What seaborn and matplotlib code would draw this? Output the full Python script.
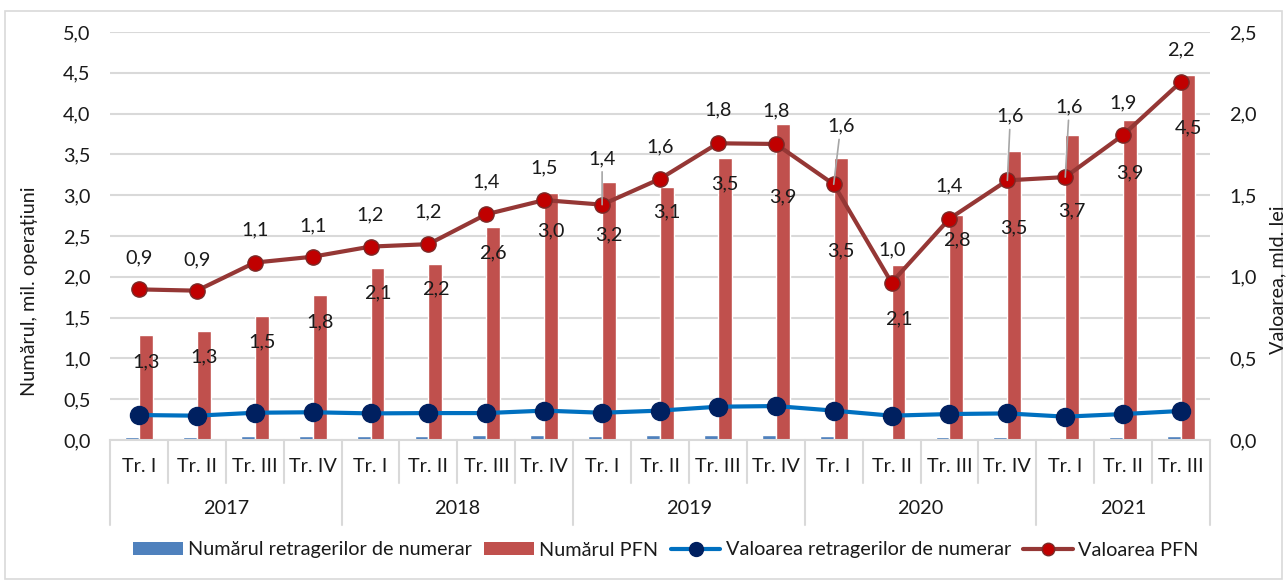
import numpy as np
import pandas as pd
import matplotlib
matplotlib.use("Agg")
import matplotlib.pyplot as plt
import matplotlib.transforms as mtransforms
from matplotlib.patches import Patch, Rectangle
from matplotlib.lines import Line2D
import seaborn as sns

# ---------------- data ----------------
years = ["2017", "2018", "2019", "2020", "2021"]
quarters_per_year = [4, 4, 4, 4, 3]
quarter_labels = ["Tr. I", "Tr. II", "Tr. III", "Tr. IV"] * 4 + ["Tr. I", "Tr. II", "Tr. III"]
num_cash = [0.04, 0.04, 0.05, 0.05, 0.05, 0.05, 0.06, 0.06, 0.05, 0.06,
            0.06, 0.06, 0.05, 0.03, 0.04, 0.04, 0.03, 0.04, 0.05]
num_pfn = [1.29, 1.34, 1.52, 1.78, 2.11, 2.16, 2.61, 3.03, 3.16, 3.10,
           3.46, 3.87, 3.46, 2.14, 2.76, 3.54, 3.74, 3.92, 4.47]
val_cash = [0.153, 0.149, 0.167, 0.170, 0.163, 0.165, 0.165, 0.180, 0.167, 0.180,
            0.204, 0.208, 0.180, 0.149, 0.159, 0.163, 0.143, 0.159, 0.178]
val_pfn = [0.923, 0.915, 1.087, 1.123, 1.185, 1.200, 1.383, 1.470, 1.442, 1.600,
           1.818, 1.814, 1.567, 0.964, 1.356, 1.591, 1.611, 1.869, 2.195]

series_names = ["Numărul retragerilor de numerar", "Numărul PFN",
                "Valoarea retragerilor de numerar", "Valoarea PFN"]

# ---------------- style (label placement, px) ----------------
count_lbl_below = [27, 26, 26, 27, 25, 25, 26, 38, 53, 25, 26, 73, 93, 53, 25, 77, 76, 53, 53]
val_lbl_above = [31, 31, 33, 31, 32, 32, 32, 32, 46, 32, 33, 33, 58, 33, 33, 64, 70, 32, 32]
val_lbl_dx = [0, 0, 0, 0, 0, 0, 0, 0, 0, 0, 0, 0, 7, 0, 0, 3, 4, 0, 0]
val_leader = [8, 12, 15, 16]

C_BLUE_BAR = "#4f81bd"
C_RED_BAR = "#c0504d"
C_BLUE_LINE = "#0070c0"
C_BLUE_MK = "#002060"
C_RED_LINE = "#953735"
C_RED_MK = "#c00000"
C_GRID = "#d9d9d9"
C_TEXT = "#1a1a1a"

sns.set_style("white")
plt.rcParams["font.family"] = ["Lato", "DejaVu Sans"]
FS = 14.3
plt.rcParams["font.size"] = FS


def fmt(v):
    return f"{v:.1f}".replace(".", ",")


n = len(num_pfn)
cat_keys = [f"{i:02d}" for i in range(n)]
df = pd.DataFrame({
    "cat": cat_keys * 2,
    "series": [series_names[0]] * n + [series_names[1]] * n,
    "value": num_cash + num_pfn,
})

W, H = 1287, 583
fig = plt.figure(figsize=(W / 100, H / 100), dpi=100)
L, R, T, B = 110, 1210, 32, 440
ax = fig.add_axes([L / W, 1 - B / H, (R - L) / W, (B - T) / H])

sns.barplot(data=df, x="cat", y="value", hue="series", order=cat_keys,
            hue_order=series_names[:2], palette=[C_BLUE_BAR, C_RED_BAR],
            width=0.48, saturation=1, legend=False, ax=ax, zorder=2)
ax.set_ylim(0, 5)
ax.set_xlim(-0.5, n - 0.5)
ax.set_yticks(np.arange(0, 5.01, 0.5))
ax.set_yticklabels([fmt(v) for v in np.arange(0, 5.01, 0.5)], fontsize=FS, color=C_TEXT)
ax.yaxis.grid(True, color=C_GRID, lw=1.5, zorder=0)
ax.set_axisbelow(True)
ax.tick_params(axis="y", length=0, pad=14)
ax.tick_params(axis="x", length=0, labelbottom=False)
ax.set_xlabel("")
ax.set_ylabel("")
for s in ["top", "left", "right"]:
    ax.spines[s].set_visible(False)
ax.spines["bottom"].set_color(C_GRID)
ax.spines["bottom"].set_linewidth(1.5)

# count labels for PFN bars
for i, bar in enumerate(ax.containers[1]):
    cx = bar.get_x() + bar.get_width() / 2
    top = bar.get_height()
    ax.annotate(fmt(num_pfn[i]), xy=(cx, top), xytext=(0, -count_lbl_below[i]),
                textcoords="offset pixels", ha="center", va="center",
                fontsize=FS, color=C_TEXT, zorder=5)

# secondary axis lines
ax2 = ax.twinx()
x_idx = np.arange(n)
sns.lineplot(x=x_idx, y=val_cash, ax=ax2, color=C_BLUE_LINE, lw=3.0,
             marker="o", markersize=13, markerfacecolor=C_BLUE_MK,
             markeredgecolor=C_BLUE_MK, markeredgewidth=1, zorder=3)
sns.lineplot(x=x_idx, y=val_pfn, ax=ax2, color=C_RED_LINE, lw=3.0,
             marker="o", markersize=11, markerfacecolor=C_RED_MK,
             markeredgecolor="#7a2a28", markeredgewidth=1, zorder=4)
ax2.set_ylim(0, 2.5)
ax2.set_xlim(-0.5, n - 0.5)
ax2.set_yticks(np.arange(0, 2.51, 0.5))
ax2.set_yticklabels([fmt(v) for v in np.arange(0, 2.51, 0.5)], fontsize=FS, color=C_TEXT)
ax2.tick_params(axis="y", length=0, pad=14)
ax2.grid(False)
for s in ["top", "left", "right", "bottom"]:
    ax2.spines[s].set_visible(False)
ax2.set_ylabel("")

for i, v in enumerate(val_pfn):
    kw = {}
    if i in val_leader:
        kw["arrowprops"] = dict(arrowstyle="-", color="#a6a6a6", lw=1.2,
                                shrinkA=1, shrinkB=0)
    ax2.annotate(fmt(v), xy=(i, v), xytext=(val_lbl_dx[i], val_lbl_above[i]),
                 textcoords="offset pixels", ha="center", va="center",
                 fontsize=FS, color=C_TEXT, zorder=6, **kw)

# two-level category axis
trans = mtransforms.blended_transform_factory(ax.transData, ax.transAxes)
ax_h = B - T
y_q = -(467 - B) / ax_h
y_qsep = -(483 - B) / ax_h
y_year = -(508 - B) / ax_h
y_ysep = -(525 - B) / ax_h
for i, lab in enumerate(quarter_labels):
    ax.text(i, y_q, lab, transform=trans, ha="center", va="center",
            fontsize=FS, color=C_TEXT)
bounds = np.cumsum([0] + quarters_per_year)
for i in range(n + 1):
    xb = i - 0.5
    yb = y_ysep if i in bounds else y_qsep
    ax.plot([xb, xb], [0, yb], transform=trans, color=C_GRID, lw=1.5,
            clip_on=False, zorder=1)
for k, yr in enumerate(years):
    xc = (bounds[k] + bounds[k + 1] - 1) / 2
    ax.text(xc, y_year, yr, transform=trans, ha="center", va="center",
            fontsize=FS, color=C_TEXT)

# axis titles
fig.text(30 / W, 1 - 291 / H, "Numărul, mil. operațiuni", rotation=90,
         ha="center", va="center", fontsize=FS, color=C_TEXT)
fig.text(1278 / W, 1 - 280 / H, "Valoarea, mld. lei", rotation=90,
         ha="center", va="center", fontsize=FS, color=C_TEXT)

# legend
handles = [
    Patch(facecolor=C_BLUE_BAR, edgecolor="none"),
    Patch(facecolor=C_RED_BAR, edgecolor="none"),
    Line2D([], [], color=C_BLUE_LINE, lw=3, marker="o", markersize=10,
           markerfacecolor=C_BLUE_MK, markeredgecolor=C_BLUE_MK),
    Line2D([], [], color=C_RED_LINE, lw=3, marker="o", markersize=9,
           markerfacecolor=C_RED_MK, markeredgecolor="#7a2a28"),
]
fig.legend(handles, series_names, loc="center", bbox_to_anchor=(666 / W, 1 - 550 / H),
           ncol=4, frameon=False, fontsize=FS, handlelength=2.5, handleheight=0.6,
           handletextpad=0.27, columnspacing=0.62, labelcolor=C_TEXT)

# outer border
fig.add_artist(Rectangle((5 / W, 4 / H), (W - 10) / W, (H - 15) / H,
                         transform=fig.transFigure, fill=False,
                         edgecolor=C_GRID, lw=1.2))

fig.savefig("out.png", dpi=100)
